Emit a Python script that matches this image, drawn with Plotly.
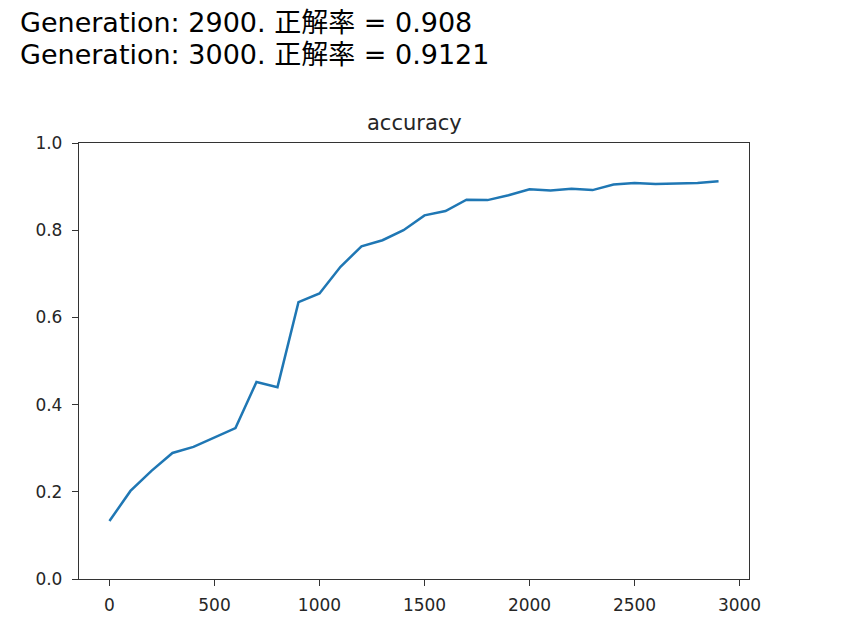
import plotly.graph_objects as go

generations = [0, 100, 200, 300, 400, 500, 600, 700, 800, 900,
               1000, 1100, 1200, 1300, 1400, 1500, 1600, 1700, 1800, 1900,
               2000, 2100, 2200, 2300, 2400, 2500, 2600, 2700, 2800, 2900]
accuracy = [0.133, 0.202, 0.248, 0.289, 0.303, 0.324, 0.346, 0.452, 0.440, 0.635,
            0.655, 0.716, 0.763, 0.777, 0.800, 0.834, 0.844, 0.870, 0.869, 0.880,
            0.894, 0.891, 0.895, 0.892, 0.905, 0.908, 0.906, 0.907, 0.908, 0.9121]
header_lines = ["Generation: 2900. 正解率 = 0.908",
                "Generation: 3000. 正解率 = 0.9121"]
title_text = "accuracy"
x_ticks = [0, 500, 1000, 1500, 2000, 2500, 3000]
y_ticks = [0.0, 0.2, 0.4, 0.6, 0.8, 1.0]

# page body has an 8px margin, so the figure is drawn at (8, 8)
OFF = 8
W, H = 846 - 2 * OFF, 630 - 2 * OFF
L = 79.3 - OFF
T = 142.7 - OFF
R = W - (749 - OFF)
B = H - (578.7 - OFF)

fig = go.Figure()
fig.add_trace(go.Scatter(x=generations, y=accuracy, mode="lines",
                         line=dict(color="#1f77b4", width=2.5), showlegend=False))

xmin, xmax = min(generations), max(generations)
pad = (xmax - xmin) * 0.05

axis_common = dict(showgrid=False, zeroline=False, showline=True, mirror=True,
                   automargin=False,
                   linecolor="#333333", linewidth=1.3, ticks="outside", ticklen=6,
                   tickwidth=1.3, tickcolor="#333333",
                   tickfont=dict(family="DejaVu Sans", size=17, color="#262626"))

fig.update_xaxes(range=[xmin - pad, xmax + pad], tickvals=x_ticks,
                 ticktext=[str(v) for v in x_ticks], ticklabelstandoff=4, **axis_common)
fig.update_yaxes(range=[0, 1], tickvals=y_ticks,
                 ticktext=[f"{v:.1f}" for v in y_ticks], ticklabelstandoff=6, **axis_common)

annotations = []
for i, line in enumerate(header_lines):
    py = 22 - OFF + 32 * i
    annotations.append(dict(text=line, xref="paper", yref="paper", x=0, y=1,
                            xanchor="left", yanchor="middle", showarrow=False,
                            xshift=(18 - OFF) - L, yshift=T - py,
                            font=dict(family="DejaVu Sans, Noto Sans CJK JP", size=27,
                                      color="#000000")))
annotations.append(dict(text=title_text, xref="paper", yref="paper", x=0.5, y=1,
                        xanchor="center", yanchor="bottom", showarrow=False, yshift=6,
                        font=dict(family="DejaVu Sans", size=21, color="#262626")))

fig.update_layout(width=W, height=H, margin=dict(l=L, r=R, t=T, b=B, pad=0),
                  paper_bgcolor="white", plot_bgcolor="white",
                  annotations=annotations)

fig.write_html("out.html")
